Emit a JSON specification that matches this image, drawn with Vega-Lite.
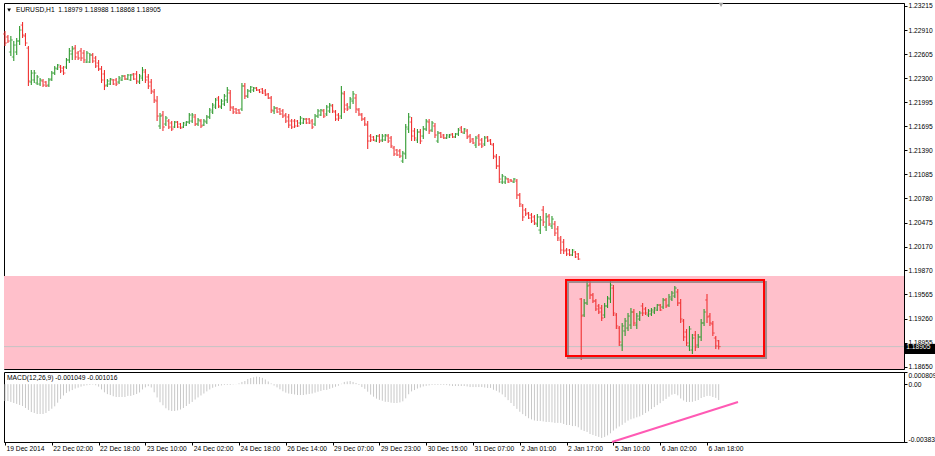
{
"$schema":"https://vega.github.io/schema/vega-lite/v6.json",
"background":"white",
"padding":{"left":2,"top":2,"right":0,"bottom":0},
"config":{"font":"Liberation Sans","view":{"stroke":"#000000","strokeWidth":1},"axis":{"labelFont":"Liberation Sans","labelFontSize":6.7,"labelColor":"#000000","tickColor":"#000000","domainColor":"#000000","grid":false}},
"spacing":3,
"bounds":"flush",
"datasets":{"bars":[
{"i":0,"o":1.22860,"h":1.22898,"l":1.22708,"c":1.22746,"m":-0.00112},
{"i":1,"o":1.22822,"h":1.22847,"l":1.22746,"c":1.22771,"m":-0.00112},
{"i":2,"o":1.22632,"h":1.22834,"l":1.22581,"c":1.22784,"m":-0.00118},
{"i":3,"o":1.22569,"h":1.22771,"l":1.22518,"c":1.22720,"m":-0.00125},
{"i":4,"o":1.22632,"h":1.22809,"l":1.22594,"c":1.22771,"m":-0.00131},
{"i":5,"o":1.22771,"h":1.22961,"l":1.22720,"c":1.22910,"m":-0.00138},
{"i":6,"o":1.22973,"h":1.23011,"l":1.22809,"c":1.22847,"m":-0.00145},
{"i":7,"o":1.22834,"h":1.22872,"l":1.22708,"c":1.22746,"m":-0.00158},
{"i":8,"o":1.22682,"h":1.22708,"l":1.22202,"c":1.22265,"m":-0.00171},
{"i":9,"o":1.22252,"h":1.22404,"l":1.22214,"c":1.22366,"m":-0.00185},
{"i":10,"o":1.22278,"h":1.22404,"l":1.22240,"c":1.22366,"m":-0.00191},
{"i":11,"o":1.22240,"h":1.22341,"l":1.22214,"c":1.22316,"m":-0.00198},
{"i":12,"o":1.22227,"h":1.22303,"l":1.22202,"c":1.22278,"m":-0.00198},
{"i":13,"o":1.22265,"h":1.22290,"l":1.22189,"c":1.22214,"m":-0.00198},
{"i":14,"o":1.22252,"h":1.22265,"l":1.22189,"c":1.22202,"m":-0.00191},
{"i":15,"o":1.22214,"h":1.22303,"l":1.22189,"c":1.22278,"m":-0.00178},
{"i":16,"o":1.22290,"h":1.22392,"l":1.22265,"c":1.22366,"m":-0.00163},
{"i":17,"o":1.22366,"h":1.22455,"l":1.22341,"c":1.22429,"m":-0.00147},
{"i":18,"o":1.22417,"h":1.22480,"l":1.22404,"c":1.22467,"m":-0.00123},
{"i":19,"o":1.22442,"h":1.22467,"l":1.22366,"c":1.22392,"m":-0.00098},
{"i":20,"o":1.22429,"h":1.22455,"l":1.22341,"c":1.22366,"m":-0.00075},
{"i":21,"o":1.22442,"h":1.22556,"l":1.22417,"c":1.22531,"m":-0.00058},
{"i":22,"o":1.22531,"h":1.22682,"l":1.22493,"c":1.22645,"m":-0.00048},
{"i":23,"o":1.22607,"h":1.22708,"l":1.22531,"c":1.22670,"m":-0.00039},
{"i":24,"o":1.22682,"h":1.22720,"l":1.22531,"c":1.22569,"m":-0.00029},
{"i":25,"o":1.22619,"h":1.22645,"l":1.22531,"c":1.22556,"m":-0.00023},
{"i":26,"o":1.22645,"h":1.22682,"l":1.22518,"c":1.22556,"m":-0.00016},
{"i":27,"o":1.22619,"h":1.22657,"l":1.22493,"c":1.22531,"m":-0.00011},
{"i":28,"o":1.22505,"h":1.22645,"l":1.22493,"c":1.22619,"m":-0.00007},
{"i":29,"o":1.22505,"h":1.22619,"l":1.22493,"c":1.22594,"m":-0.00005},
{"i":30,"o":1.22594,"h":1.22619,"l":1.22493,"c":1.22518,"m":-0.00003},
{"i":31,"o":1.22556,"h":1.22581,"l":1.22429,"c":1.22455,"m":-0.00007},
{"i":32,"o":1.22493,"h":1.22531,"l":1.22392,"c":1.22417,"m":-0.00016},
{"i":33,"o":1.22417,"h":1.22455,"l":1.22240,"c":1.22278,"m":-0.00035},
{"i":34,"o":1.22354,"h":1.22404,"l":1.22151,"c":1.22202,"m":-0.00054},
{"i":35,"o":1.22214,"h":1.22290,"l":1.22189,"c":1.22265,"m":-0.00066},
{"i":36,"o":1.22227,"h":1.22303,"l":1.22214,"c":1.22290,"m":-0.00072},
{"i":37,"o":1.22278,"h":1.22290,"l":1.22214,"c":1.22227,"m":-0.00080},
{"i":38,"o":1.22278,"h":1.22303,"l":1.22202,"c":1.22227,"m":-0.00085},
{"i":39,"o":1.22252,"h":1.22328,"l":1.22227,"c":1.22303,"m":-0.00085},
{"i":40,"o":1.22278,"h":1.22341,"l":1.22265,"c":1.22328,"m":-0.00085},
{"i":41,"o":1.22328,"h":1.22341,"l":1.22278,"c":1.22290,"m":-0.00085},
{"i":42,"o":1.22290,"h":1.22354,"l":1.22278,"c":1.22341,"m":-0.00078},
{"i":43,"o":1.22278,"h":1.22354,"l":1.22265,"c":1.22341,"m":-0.00078},
{"i":44,"o":1.22354,"h":1.22366,"l":1.22278,"c":1.22290,"m":-0.00072},
{"i":45,"o":1.22354,"h":1.22392,"l":1.22227,"c":1.22265,"m":-0.00065},
{"i":46,"o":1.22252,"h":1.22354,"l":1.22227,"c":1.22328,"m":-0.00055},
{"i":47,"o":1.22303,"h":1.22442,"l":1.22265,"c":1.22404,"m":-0.00035},
{"i":48,"o":1.22379,"h":1.22417,"l":1.22240,"c":1.22278,"m":-0.00021},
{"i":49,"o":1.22316,"h":1.22354,"l":1.22164,"c":1.22202,"m":-0.00013},
{"i":50,"o":1.22252,"h":1.22290,"l":1.22101,"c":1.22139,"m":-0.00022},
{"i":51,"o":1.22126,"h":1.22164,"l":1.21987,"c":1.22025,"m":-0.00054},
{"i":52,"o":1.22012,"h":1.22075,"l":1.21759,"c":1.21822,"m":-0.00088},
{"i":53,"o":1.21696,"h":1.21860,"l":1.21658,"c":1.21822,"m":-0.00120},
{"i":54,"o":1.21835,"h":1.21886,"l":1.21633,"c":1.21683,"m":-0.00140},
{"i":55,"o":1.21721,"h":1.21822,"l":1.21696,"c":1.21797,"m":-0.00160},
{"i":56,"o":1.21759,"h":1.21784,"l":1.21658,"c":1.21683,"m":-0.00173},
{"i":57,"o":1.21734,"h":1.21759,"l":1.21633,"c":1.21658,"m":-0.00178},
{"i":58,"o":1.21683,"h":1.21759,"l":1.21671,"c":1.21746,"m":-0.00178},
{"i":59,"o":1.21746,"h":1.21759,"l":1.21671,"c":1.21683,"m":-0.00174},
{"i":60,"o":1.21721,"h":1.21734,"l":1.21658,"c":1.21671,"m":-0.00168},
{"i":61,"o":1.21683,"h":1.21746,"l":1.21671,"c":1.21734,"m":-0.00158},
{"i":62,"o":1.21708,"h":1.21759,"l":1.21696,"c":1.21746,"m":-0.00145},
{"i":63,"o":1.21746,"h":1.21860,"l":1.21721,"c":1.21835,"m":-0.00131},
{"i":64,"o":1.21759,"h":1.21860,"l":1.21734,"c":1.21835,"m":-0.00118},
{"i":65,"o":1.21810,"h":1.21848,"l":1.21696,"c":1.21721,"m":-0.00102},
{"i":66,"o":1.21721,"h":1.21797,"l":1.21696,"c":1.21772,"m":-0.00088},
{"i":67,"o":1.21759,"h":1.21784,"l":1.21671,"c":1.21696,"m":-0.00075},
{"i":68,"o":1.21708,"h":1.21784,"l":1.21696,"c":1.21759,"m":-0.00062},
{"i":69,"o":1.21746,"h":1.21835,"l":1.21721,"c":1.21810,"m":-0.00048},
{"i":70,"o":1.21810,"h":1.21923,"l":1.21784,"c":1.21898,"m":-0.00035},
{"i":71,"o":1.21873,"h":1.21987,"l":1.21848,"c":1.21961,"m":-0.00024},
{"i":72,"o":1.21936,"h":1.22050,"l":1.21911,"c":1.22025,"m":-0.00017},
{"i":73,"o":1.22050,"h":1.22075,"l":1.21923,"c":1.21949,"m":-0.00011},
{"i":74,"o":1.21936,"h":1.22037,"l":1.21911,"c":1.22012,"m":-0.00008},
{"i":75,"o":1.21974,"h":1.22101,"l":1.21949,"c":1.22075,"m":-0.00005},
{"i":76,"o":1.22025,"h":1.22189,"l":1.21987,"c":1.22151,"m":-0.00005},
{"i":77,"o":1.22113,"h":1.22151,"l":1.21886,"c":1.21936,"m":-0.00005},
{"i":78,"o":1.21923,"h":1.21949,"l":1.21848,"c":1.21873,"m":-0.00002},
{"i":79,"o":1.21911,"h":1.21923,"l":1.21848,"c":1.21860,"m":0.00001},
{"i":80,"o":1.21898,"h":1.21911,"l":1.21848,"c":1.21860,"m":0.00005},
{"i":81,"o":1.21911,"h":1.22240,"l":1.21886,"c":1.22202,"m":0.00015},
{"i":82,"o":1.22202,"h":1.22240,"l":1.22037,"c":1.22075,"m":0.00021},
{"i":83,"o":1.22075,"h":1.22164,"l":1.22050,"c":1.22139,"m":0.00034},
{"i":84,"o":1.22139,"h":1.22202,"l":1.22113,"c":1.22189,"m":0.00041},
{"i":85,"o":1.22151,"h":1.22189,"l":1.22126,"c":1.22176,"m":0.00046},
{"i":86,"o":1.22176,"h":1.22189,"l":1.22139,"c":1.22151,"m":0.00050},
{"i":87,"o":1.22151,"h":1.22164,"l":1.22113,"c":1.22126,"m":0.00048},
{"i":88,"o":1.22164,"h":1.22176,"l":1.22101,"c":1.22113,"m":0.00042},
{"i":89,"o":1.22139,"h":1.22164,"l":1.22075,"c":1.22088,"m":0.00031},
{"i":90,"o":1.22101,"h":1.22113,"l":1.22037,"c":1.22050,"m":0.00018},
{"i":91,"o":1.22050,"h":1.22075,"l":1.21860,"c":1.21898,"m":0.00005},
{"i":92,"o":1.21886,"h":1.21949,"l":1.21848,"c":1.21923,"m":-0.00009},
{"i":93,"o":1.21923,"h":1.21936,"l":1.21860,"c":1.21873,"m":-0.00021},
{"i":94,"o":1.21911,"h":1.21923,"l":1.21835,"c":1.21848,"m":-0.00034},
{"i":95,"o":1.21886,"h":1.21911,"l":1.21797,"c":1.21822,"m":-0.00047},
{"i":96,"o":1.21835,"h":1.21860,"l":1.21734,"c":1.21759,"m":-0.00056},
{"i":97,"o":1.21810,"h":1.21848,"l":1.21671,"c":1.21708,"m":-0.00062},
{"i":98,"o":1.21759,"h":1.21784,"l":1.21658,"c":1.21683,"m":-0.00065},
{"i":99,"o":1.21759,"h":1.21784,"l":1.21671,"c":1.21696,"m":-0.00068},
{"i":100,"o":1.21759,"h":1.21772,"l":1.21683,"c":1.21696,"m":-0.00072},
{"i":101,"o":1.21734,"h":1.21822,"l":1.21708,"c":1.21797,"m":-0.00072},
{"i":102,"o":1.21734,"h":1.21797,"l":1.21721,"c":1.21784,"m":-0.00072},
{"i":103,"o":1.21784,"h":1.21797,"l":1.21721,"c":1.21734,"m":-0.00068},
{"i":104,"o":1.21784,"h":1.21797,"l":1.21721,"c":1.21734,"m":-0.00065},
{"i":105,"o":1.21759,"h":1.21784,"l":1.21658,"c":1.21683,"m":-0.00062},
{"i":106,"o":1.21721,"h":1.21848,"l":1.21696,"c":1.21822,"m":-0.00056},
{"i":107,"o":1.21822,"h":1.21911,"l":1.21797,"c":1.21886,"m":-0.00050},
{"i":108,"o":1.21835,"h":1.21911,"l":1.21822,"c":1.21898,"m":-0.00045},
{"i":109,"o":1.21886,"h":1.21911,"l":1.21797,"c":1.21822,"m":-0.00039},
{"i":110,"o":1.21848,"h":1.21961,"l":1.21822,"c":1.21936,"m":-0.00038},
{"i":111,"o":1.21886,"h":1.21987,"l":1.21860,"c":1.21961,"m":-0.00031},
{"i":112,"o":1.21949,"h":1.21974,"l":1.21860,"c":1.21886,"m":-0.00024},
{"i":113,"o":1.21873,"h":1.21898,"l":1.21759,"c":1.21784,"m":-0.00017},
{"i":114,"o":1.21835,"h":1.21860,"l":1.21759,"c":1.21797,"m":-0.00010},
{"i":115,"o":1.21822,"h":1.22202,"l":1.21784,"c":1.22113,"m":0.00003},
{"i":116,"o":1.22101,"h":1.22139,"l":1.21860,"c":1.21911,"m":0.00015},
{"i":117,"o":1.21961,"h":1.21987,"l":1.21886,"c":1.21911,"m":0.00018},
{"i":118,"o":1.21936,"h":1.22063,"l":1.21911,"c":1.22037,"m":0.00021},
{"i":119,"o":1.22012,"h":1.22139,"l":1.21974,"c":1.22101,"m":0.00015},
{"i":120,"o":1.22050,"h":1.22101,"l":1.21860,"c":1.21911,"m":0.00008},
{"i":121,"o":1.21898,"h":1.21923,"l":1.21822,"c":1.21848,"m":-0.00005},
{"i":122,"o":1.21835,"h":1.21860,"l":1.21759,"c":1.21784,"m":-0.00019},
{"i":123,"o":1.21784,"h":1.21810,"l":1.21696,"c":1.21721,"m":-0.00031},
{"i":124,"o":1.21708,"h":1.21759,"l":1.21405,"c":1.21506,"m":-0.00050},
{"i":125,"o":1.21569,"h":1.21595,"l":1.21493,"c":1.21519,"m":-0.00069},
{"i":126,"o":1.21557,"h":1.21569,"l":1.21506,"c":1.21519,"m":-0.00083},
{"i":127,"o":1.21506,"h":1.21582,"l":1.21493,"c":1.21569,"m":-0.00096},
{"i":128,"o":1.21569,"h":1.21595,"l":1.21481,"c":1.21506,"m":-0.00104},
{"i":129,"o":1.21519,"h":1.21595,"l":1.21493,"c":1.21569,"m":-0.00110},
{"i":130,"o":1.21519,"h":1.21595,"l":1.21506,"c":1.21582,"m":-0.00117},
{"i":131,"o":1.21569,"h":1.21595,"l":1.21481,"c":1.21506,"m":-0.00118},
{"i":132,"o":1.21544,"h":1.21569,"l":1.21418,"c":1.21443,"m":-0.00123},
{"i":133,"o":1.21418,"h":1.21443,"l":1.21316,"c":1.21342,"m":-0.00125},
{"i":134,"o":1.21392,"h":1.21405,"l":1.21316,"c":1.21329,"m":-0.00125},
{"i":135,"o":1.21380,"h":1.21405,"l":1.21291,"c":1.21316,"m":-0.00121},
{"i":136,"o":1.21253,"h":1.21380,"l":1.21228,"c":1.21354,"m":-0.00114},
{"i":137,"o":1.21342,"h":1.21721,"l":1.21278,"c":1.21683,"m":-0.00094},
{"i":138,"o":1.21658,"h":1.21860,"l":1.21607,"c":1.21810,"m":-0.00067},
{"i":139,"o":1.21746,"h":1.21810,"l":1.21506,"c":1.21569,"m":-0.00048},
{"i":140,"o":1.21633,"h":1.21671,"l":1.21506,"c":1.21544,"m":-0.00039},
{"i":141,"o":1.21519,"h":1.21658,"l":1.21481,"c":1.21620,"m":-0.00029},
{"i":142,"o":1.21620,"h":1.21658,"l":1.21468,"c":1.21506,"m":-0.00022},
{"i":143,"o":1.21569,"h":1.21696,"l":1.21531,"c":1.21658,"m":-0.00015},
{"i":144,"o":1.21658,"h":1.21784,"l":1.21633,"c":1.21759,"m":-0.00011},
{"i":145,"o":1.21746,"h":1.21784,"l":1.21595,"c":1.21633,"m":-0.00008},
{"i":146,"o":1.21645,"h":1.21759,"l":1.21620,"c":1.21734,"m":-0.00005},
{"i":147,"o":1.21696,"h":1.21734,"l":1.21544,"c":1.21582,"m":-0.00005},
{"i":148,"o":1.21506,"h":1.21633,"l":1.21481,"c":1.21607,"m":-0.00005},
{"i":149,"o":1.21607,"h":1.21620,"l":1.21544,"c":1.21557,"m":-0.00005},
{"i":150,"o":1.21582,"h":1.21595,"l":1.21531,"c":1.21544,"m":-0.00005},
{"i":151,"o":1.21544,"h":1.21595,"l":1.21531,"c":1.21582,"m":-0.00006},
{"i":152,"o":1.21557,"h":1.21595,"l":1.21544,"c":1.21582,"m":-0.00009},
{"i":153,"o":1.21595,"h":1.21607,"l":1.21544,"c":1.21557,"m":-0.00012},
{"i":154,"o":1.21557,"h":1.21607,"l":1.21544,"c":1.21595,"m":-0.00012},
{"i":155,"o":1.21595,"h":1.21671,"l":1.21569,"c":1.21645,"m":-0.00012},
{"i":156,"o":1.21671,"h":1.21696,"l":1.21607,"c":1.21620,"m":-0.00012},
{"i":157,"o":1.21607,"h":1.21671,"l":1.21595,"c":1.21658,"m":-0.00012},
{"i":158,"o":1.21633,"h":1.21658,"l":1.21531,"c":1.21557,"m":-0.00015},
{"i":159,"o":1.21569,"h":1.21595,"l":1.21481,"c":1.21506,"m":-0.00019},
{"i":160,"o":1.21531,"h":1.21544,"l":1.21468,"c":1.21481,"m":-0.00019},
{"i":161,"o":1.21455,"h":1.21569,"l":1.21418,"c":1.21544,"m":-0.00019},
{"i":162,"o":1.21569,"h":1.21595,"l":1.21443,"c":1.21468,"m":-0.00019},
{"i":163,"o":1.21519,"h":1.21544,"l":1.21418,"c":1.21443,"m":-0.00019},
{"i":164,"o":1.21468,"h":1.21569,"l":1.21443,"c":1.21544,"m":-0.00022},
{"i":165,"o":1.21557,"h":1.21569,"l":1.21493,"c":1.21506,"m":-0.00025},
{"i":166,"o":1.21519,"h":1.21531,"l":1.21455,"c":1.21468,"m":-0.00025},
{"i":167,"o":1.21455,"h":1.21481,"l":1.21278,"c":1.21316,"m":-0.00037},
{"i":168,"o":1.21304,"h":1.21342,"l":1.21152,"c":1.21190,"m":-0.00044},
{"i":169,"o":1.21190,"h":1.21316,"l":1.20975,"c":1.21025,"m":-0.00055},
{"i":170,"o":1.20987,"h":1.21089,"l":1.20962,"c":1.21063,"m":-0.00068},
{"i":171,"o":1.20987,"h":1.21063,"l":1.20962,"c":1.21038,"m":-0.00086},
{"i":172,"o":1.21025,"h":1.21038,"l":1.20975,"c":1.20987,"m":-0.00106},
{"i":173,"o":1.21013,"h":1.21025,"l":1.20987,"c":1.21000,"m":-0.00125},
{"i":174,"o":1.20987,"h":1.21038,"l":1.20975,"c":1.21025,"m":-0.00145},
{"i":175,"o":1.21000,"h":1.21025,"l":1.20772,"c":1.20823,"m":-0.00164},
{"i":176,"o":1.20823,"h":1.20848,"l":1.20671,"c":1.20709,"m":-0.00183},
{"i":177,"o":1.20684,"h":1.20709,"l":1.20494,"c":1.20545,"m":-0.00199},
{"i":178,"o":1.20633,"h":1.20658,"l":1.20557,"c":1.20583,"m":-0.00212},
{"i":179,"o":1.20595,"h":1.20608,"l":1.20519,"c":1.20532,"m":-0.00226},
{"i":180,"o":1.20570,"h":1.20595,"l":1.20469,"c":1.20494,"m":-0.00234},
{"i":181,"o":1.20545,"h":1.20570,"l":1.20443,"c":1.20469,"m":-0.00241},
{"i":182,"o":1.20456,"h":1.20583,"l":1.20418,"c":1.20545,"m":-0.00244},
{"i":183,"o":1.20380,"h":1.20557,"l":1.20330,"c":1.20507,"m":-0.00244},
{"i":184,"o":1.20633,"h":1.20684,"l":1.20431,"c":1.20481,"m":-0.00247},
{"i":185,"o":1.20418,"h":1.20595,"l":1.20368,"c":1.20545,"m":-0.00251},
{"i":186,"o":1.20557,"h":1.20583,"l":1.20431,"c":1.20456,"m":-0.00251},
{"i":187,"o":1.20431,"h":1.20557,"l":1.20393,"c":1.20519,"m":-0.00253},
{"i":188,"o":1.20456,"h":1.20494,"l":1.20304,"c":1.20342,"m":-0.00257},
{"i":189,"o":1.20393,"h":1.20431,"l":1.20241,"c":1.20279,"m":-0.00257},
{"i":190,"o":1.20254,"h":1.20304,"l":1.20077,"c":1.20127,"m":-0.00257},
{"i":191,"o":1.20228,"h":1.20266,"l":1.20077,"c":1.20115,"m":-0.00264},
{"i":192,"o":1.20127,"h":1.20152,"l":1.20051,"c":1.20077,"m":-0.00271},
{"i":193,"o":1.20127,"h":1.20140,"l":1.20051,"c":1.20064,"m":-0.00271},
{"i":194,"o":1.20064,"h":1.20140,"l":1.20051,"c":1.20127,"m":-0.00278},
{"i":195,"o":1.20102,"h":1.20115,"l":1.20026,"c":1.20039,"m":-0.00278},
{"i":196,"o":1.20077,"h":1.20089,"l":1.20001,"c":1.20013,"m":-0.00286},
{"i":197,"o":1.19507,"h":1.19520,"l":1.18736,"c":1.19292,"m":-0.00303},
{"i":198,"o":1.19305,"h":1.19507,"l":1.19280,"c":1.19457,"m":-0.00311},
{"i":199,"o":1.19457,"h":1.19735,"l":1.19431,"c":1.19672,"m":-0.00317},
{"i":200,"o":1.19684,"h":1.19735,"l":1.19507,"c":1.19558,"m":-0.00331},
{"i":201,"o":1.19558,"h":1.19583,"l":1.19457,"c":1.19482,"m":-0.00337},
{"i":202,"o":1.19482,"h":1.19507,"l":1.19356,"c":1.19381,"m":-0.00344},
{"i":203,"o":1.19419,"h":1.19444,"l":1.19318,"c":1.19343,"m":-0.00350},
{"i":204,"o":1.19393,"h":1.19431,"l":1.19229,"c":1.19267,"m":-0.00357},
{"i":205,"o":1.19305,"h":1.19457,"l":1.19267,"c":1.19419,"m":-0.00350},
{"i":206,"o":1.19419,"h":1.19545,"l":1.19393,"c":1.19520,"m":-0.00340},
{"i":207,"o":1.19507,"h":1.19735,"l":1.19457,"c":1.19684,"m":-0.00326},
{"i":208,"o":1.19646,"h":1.19684,"l":1.19292,"c":1.19330,"m":-0.00308},
{"i":209,"o":1.19305,"h":1.19330,"l":1.19128,"c":1.19166,"m":-0.00294},
{"i":210,"o":1.19140,"h":1.19166,"l":1.18913,"c":1.18963,"m":-0.00281},
{"i":211,"o":1.18925,"h":1.19204,"l":1.18850,"c":1.19166,"m":-0.00270},
{"i":212,"o":1.19103,"h":1.19267,"l":1.19039,"c":1.19229,"m":-0.00256},
{"i":213,"o":1.19140,"h":1.19330,"l":1.19103,"c":1.19292,"m":-0.00242},
{"i":214,"o":1.19178,"h":1.19393,"l":1.19128,"c":1.19343,"m":-0.00233},
{"i":215,"o":1.19343,"h":1.19381,"l":1.19166,"c":1.19204,"m":-0.00227},
{"i":216,"o":1.19178,"h":1.19330,"l":1.19128,"c":1.19292,"m":-0.00220},
{"i":217,"o":1.19254,"h":1.19356,"l":1.19229,"c":1.19330,"m":-0.00214},
{"i":218,"o":1.19419,"h":1.19457,"l":1.19292,"c":1.19330,"m":-0.00204},
{"i":219,"o":1.19381,"h":1.19406,"l":1.19305,"c":1.19330,"m":-0.00191},
{"i":220,"o":1.19305,"h":1.19381,"l":1.19280,"c":1.19356,"m":-0.00180},
{"i":221,"o":1.19318,"h":1.19393,"l":1.19292,"c":1.19368,"m":-0.00165},
{"i":222,"o":1.19343,"h":1.19406,"l":1.19318,"c":1.19393,"m":-0.00152},
{"i":223,"o":1.19368,"h":1.19444,"l":1.19356,"c":1.19431,"m":-0.00139},
{"i":224,"o":1.19431,"h":1.19444,"l":1.19356,"c":1.19368,"m":-0.00126},
{"i":225,"o":1.19406,"h":1.19520,"l":1.19381,"c":1.19495,"m":-0.00111},
{"i":226,"o":1.19495,"h":1.19520,"l":1.19393,"c":1.19419,"m":-0.00098},
{"i":227,"o":1.19431,"h":1.19571,"l":1.19406,"c":1.19533,"m":-0.00083},
{"i":228,"o":1.19507,"h":1.19609,"l":1.19482,"c":1.19583,"m":-0.00070},
{"i":229,"o":1.19545,"h":1.19672,"l":1.19520,"c":1.19646,"m":-0.00065},
{"i":230,"o":1.19596,"h":1.19634,"l":1.19419,"c":1.19457,"m":-0.00074},
{"i":231,"o":1.19457,"h":1.19507,"l":1.19204,"c":1.19254,"m":-0.00095},
{"i":232,"o":1.19229,"h":1.19254,"l":1.18976,"c":1.19027,"m":-0.00108},
{"i":233,"o":1.19090,"h":1.19128,"l":1.18913,"c":1.18951,"m":-0.00118},
{"i":234,"o":1.18913,"h":1.19166,"l":1.18850,"c":1.19128,"m":-0.00118},
{"i":235,"o":1.18862,"h":1.19065,"l":1.18812,"c":1.19014,"m":-0.00117},
{"i":236,"o":1.19052,"h":1.19103,"l":1.18850,"c":1.18900,"m":-0.00111},
{"i":237,"o":1.18925,"h":1.19065,"l":1.18887,"c":1.19027,"m":-0.00105},
{"i":238,"o":1.19027,"h":1.19254,"l":1.18976,"c":1.19204,"m":-0.00092},
{"i":239,"o":1.19204,"h":1.19381,"l":1.19166,"c":1.19343,"m":-0.00085},
{"i":240,"o":1.19495,"h":1.19571,"l":1.19204,"c":1.19280,"m":-0.00078},
{"i":241,"o":1.19292,"h":1.19330,"l":1.19166,"c":1.19204,"m":-0.00078},
{"i":242,"o":1.19191,"h":1.19229,"l":1.19039,"c":1.19077,"m":-0.00085},
{"i":243,"o":1.19014,"h":1.19039,"l":1.18875,"c":1.18913,"m":-0.00091},
{"i":244,"o":1.18979,"h":1.18988,"l":1.18868,"c":1.18905,"m":-0.001049}
]},
"vconcat":[
{"width":900,"height":366,
 "encoding":{
   "x":{"type":"quantitative","scale":{"domain":[-0.342,307.35],"nice":false,"zero":false},"axis":null},
   "y":{"type":"quantitative","scale":{"domain":[1.18622,1.23252],"nice":false,"zero":false},
        "axis":{"orient":"right","title":null,"values":[1.23215,1.2291,1.22605,1.223,1.21995,1.21695,1.2139,1.21085,1.2078,1.20475,1.2017,1.1987,1.19565,1.1926,1.18955,1.1865],"format":".5f","tickSize":3,"labelPadding":1,"labelOverlap":false,"grid":false,"zindex":0}}
 },
 "layer":[
  {"data":{"values":[{}]},"mark":{"type":"rect","color":"#ffc0cb"},
   "encoding":{"y":{"datum":1.19798,"type":"quantitative"},"y2":{"datum":1.18622}}},
  {"data":{"values":[{}]},"mark":{"type":"rule","color":"#c4c4c4","strokeWidth":1},
   "encoding":{"y":{"datum":1.18905,"type":"quantitative"}}},
  {"data":{"name":"bars"},"mark":{"type":"rule","strokeWidth":1.1},
   "encoding":{
    "x":{"field":"i","type":"quantitative"},
    "y":{"field":"l","type":"quantitative"},
    "y2":{"field":"h"},
    "color":{"condition":{"test":"datum.c >= datum.o","value":"#2f9a2f"},"value":"#f03030"}}},
  {"data":{"name":"bars"},"mark":{"type":"tick","orient":"horizontal","size":2,"thickness":1,"xOffset":-1},
   "encoding":{
    "x":{"field":"i","type":"quantitative"},
    "y":{"field":"o","type":"quantitative"},
    "color":{"condition":{"test":"datum.c >= datum.o","value":"#2f9a2f"},"value":"#f03030"}}},
  {"data":{"name":"bars"},"mark":{"type":"tick","orient":"horizontal","size":2,"thickness":1,"xOffset":1},
   "encoding":{
    "x":{"field":"i","type":"quantitative"},
    "y":{"field":"c","type":"quantitative"},
    "color":{"condition":{"test":"datum.c >= datum.o","value":"#2f9a2f"},"value":"#f03030"}}},
  {"data":{"values":[{}]},"mark":{"type":"rect","filled":false,"stroke":"#8a7d80","strokeWidth":2,"xOffset":2,"x2Offset":2,"yOffset":2,"y2Offset":2,"opacity":0.8},
   "encoding":{"x":{"datum":191.8,"type":"quantitative"},"x2":{"datum":259.5},"y":{"datum":1.19748,"type":"quantitative"},"y2":{"datum":1.18786}}},
  {"data":{"values":[{}]},"mark":{"type":"rect","filled":false,"stroke":"#ff0000","strokeWidth":2},
   "encoding":{"x":{"datum":191.8,"type":"quantitative"},"x2":{"datum":259.5},"y":{"datum":1.19748,"type":"quantitative"},"y2":{"datum":1.18786}}},
  {"data":{"values":[{}]},"mark":{"type":"rect","color":"#000000"},
   "encoding":{"x":{"datum":307.35,"type":"quantitative"},"x2":{"datum":318},"y":{"datum":1.1894,"type":"quantitative"},"y2":{"datum":1.18812}}},
  {"data":{"values":[{}]},"mark":{"type":"text","align":"left","baseline":"middle","color":"#ffffff","fontSize":6.7,"font":"Liberation Sans"},
   "encoding":{"x":{"datum":308.1,"type":"quantitative"},"y":{"datum":1.18895,"type":"quantitative"},"text":{"value":"1.18905"}}},
  {"data":{"values":[{}]},"mark":{"type":"point","shape":"triangle-down","filled":true,"size":14,"color":"#000000","opacity":1},
   "encoding":{"x":{"datum":1.4,"type":"quantitative"},"y":{"datum":1.23163,"type":"quantitative"}}},
  {"data":{"values":[{}]},"mark":{"type":"point","shape":"triangle-down","filled":true,"size":22,"color":"#a0a0a0","opacity":1},
   "encoding":{"x":{"datum":244.8,"type":"quantitative"},"y":{"datum":1.23228,"type":"quantitative"}}},
  {"data":{"values":[{}]},"mark":{"type":"text","align":"left","baseline":"middle","color":"#000000","fontSize":6.7,"font":"Liberation Sans"},
   "encoding":{"x":{"datum":3.76,"type":"quantitative"},"y":{"datum":1.23163,"type":"quantitative"},"text":{"value":"EURUSD,H1\u00a0\u00a01.18979 1.18988 1.18868 1.18905"}}}
 ]},
{"width":900,"height":70,
 "encoding":{
   "x":{"type":"quantitative","scale":{"domain":[-0.342,307.35],"nice":false,"zero":false},
        "axis":{"title":null,"values":[0,16,32,48,64,80,96,112,128,144,160,176,192,208,224,240],"labelExpr":"['19 Dec 2014','22 Dec 02:00','22 Dec 18:00','23 Dec 10:00','24 Dec 02:00','24 Dec 18:00','26 Dec 14:00','29 Dec 07:00','29 Dec 23:00','30 Dec 15:00','31 Dec 07:00','2 Jan 01:00','2 Jan 17:00','5 Jan 10:00','6 Jan 02:00','6 Jan 18:00'][round(datum.value/16)]","labelAlign":"left","labelOffset":1,"tickSize":3,"labelPadding":0,"labelOverlap":false,"labelFlush":false,"grid":false}},
   "y":{"type":"quantitative","scale":{"domain":[-0.003838,0.000809],"nice":false,"zero":false},
        "axis":{"orient":"right","title":null,"values":[0.000809,0,-0.003838],"labelExpr":"datum.value > 0.0001 ? '0.000809' : (datum.value < -0.0001 ? '-0.003838' : '0.00')","tickSize":3,"labelPadding":1,"labelFlush":true,"labelOverlap":false,"grid":false}}
 },
 "layer":[
  {"data":{"name":"bars"},"mark":{"type":"rule","color":"#c8c8c8","strokeWidth":1},
   "encoding":{"x":{"field":"i","type":"quantitative"},"y":{"field":"m","type":"quantitative"},"y2":{"datum":0}}},
  {"data":{"values":[{}]},"mark":{"type":"rule","color":"#ff5ab4","strokeWidth":2},
   "encoding":{"x":{"datum":207.5,"type":"quantitative"},"x2":{"datum":250.6},"y":{"datum":-0.003838,"type":"quantitative"},"y2":{"datum":-0.001183}}},
  {"data":{"values":[{}]},"mark":{"type":"text","align":"left","baseline":"middle","color":"#000000","fontSize":6.7,"font":"Liberation Sans"},
   "encoding":{"x":{"datum":0.7,"type":"quantitative"},"y":{"datum":0.000412,"type":"quantitative"},"text":{"value":"MACD(12,26,9) -0.001049 -0.001016"}}}
 ]}
]
}
